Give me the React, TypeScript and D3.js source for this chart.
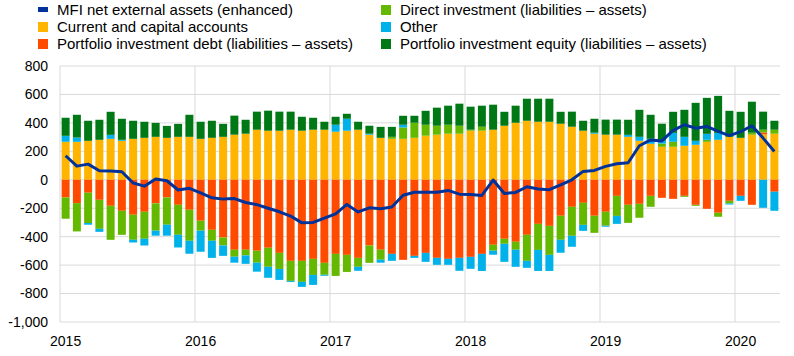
import React from "react";
import * as d3 from "d3";

const months: number[] = d3.range(64);
const yearLabels = ["2015", "2016", "2017", "2018", "2019", "2020"];
const yTicks = [800, 600, 400, 200, 0, -200, -400, -600, -800, -1000];

const current = [267,267,274,281,288,274,288,295,302,295,302,302,288,295,302,317,324,352,345,345,352,345,352,352,338,345,352,317,295,288,288,295,310,317,324,324,345,345,352,380,401,415,408,408,394,373,345,324,317,317,302,274,253,232,232,239,246,267,281,302,295,317,319,324];
const debt = [-124,-164,-91,-141,-183,-218,-246,-225,-166,-124,-176,-211,-288,-352,-406,-492,-492,-499,-478,-514,-570,-570,-556,-584,-521,-528,-549,-462,-492,-521,-563,-535,-514,-549,-556,-549,-542,-521,-457,-415,-436,-387,-310,-324,-253,-190,-162,-253,-225,-113,-176,-169,-113,-127,-134,-113,-176,-204,-232,-148,-113,-176,14,-84];
const direct = [-150,-199,-213,-204,-239,-169,-176,-190,-192,-192,-211,-218,-70,-77,-56,-49,-40,-84,-134,-113,-141,-148,-113,-84,-155,-120,-63,-122,-70,14,80,106,77,63,63,56,7,28,-42,-35,-56,-183,-183,-204,-169,-204,-155,-120,-98,-141,-127,-98,-77,23,35,-7,-7,14,-28,-19,0,14,19,28];
const other = [42,30,-12,-21,28,7,-19,-47,-35,-77,-89,-91,-148,-120,-73,-42,-59,-63,-77,-77,-7,-35,-70,-7,49,84,-28,7,-21,-49,19,-14,-63,-49,-42,-91,-84,-120,-28,-127,-120,-49,-148,-113,-91,-77,-42,7,-7,-56,14,28,35,19,63,63,28,42,49,-7,-35,0,-197,-134];
const equity = [127,160,141,141,162,148,127,113,98,84,91,155,120,120,91,134,98,127,141,134,127,98,84,56,56,35,56,56,77,70,63,49,98,127,134,155,162,148,176,98,120,155,162,162,84,106,70,98,106,106,106,190,169,120,148,190,267,253,260,183,183,218,127,63];
const mfi = [169,96,110,63,61,56,-23,-45,5,-7,-72,-60,-92,-127,-136,-132,-160,-175,-200,-225,-255,-303,-300,-270,-240,-173,-226,-197,-204,-191,-109,-88,-87,-87,-75,-101,-103,-110,-2,-96,-89,-49,-65,-70,-35,0,59,66,94,113,120,239,280,273,347,387,363,375,340,310,338,380,293,199];

const seriesKeys = ["current", "debt", "direct", "other", "equity"];
const seriesColors: Record<string, string> = {
  current: "#FFB400",
  debt: "#FF4B00",
  direct: "#65B800",
  other: "#00B1EA",
  equity: "#007816",
};
const lineColor = "#003299";

const legendItems = [
  { label: "MFI net external assets (enhanced)", color: lineColor, line: true, col: 0, row: 0 },
  { label: "Current and capital accounts", color: seriesColors.current, col: 0, row: 1 },
  { label: "Portfolio investment debt (liabilities \u2013 assets)", color: seriesColors.debt, col: 0, row: 2 },
  { label: "Direct investment (liabilities \u2013 assets)", color: seriesColors.direct, col: 1, row: 0 },
  { label: "Other", color: seriesColors.other, col: 1, row: 1 },
  { label: "Portfolio investment equity (liabilities \u2013 assets)", color: seriesColors.equity, col: 1, row: 2 },
];

export default function App() {
  const W = 794, H = 356;
  const left = 60, right = 780, top = 66, bottom = 322;
  const rows = months.map((m) => ({
    m,
    current: current[m],
    debt: debt[m],
    direct: direct[m],
    other: other[m],
    equity: equity[m],
  }));
  const stack = d3.stack<any>().keys(seriesKeys).offset(d3.stackOffsetDiverging);
  const stacked = stack(rows);
  const x = d3.scaleBand<number>().domain(months).range([left, right]).paddingInner(0.29).paddingOuter(0.145);
  const xStep = (right - left) / months.length;
  const y = d3.scaleLinear().domain([-1000, 800]).range([bottom, top]);
  const line = d3
    .line<number>()
    .x((_, i) => (x(i) as number) + x.bandwidth() / 2)
    .y((d) => y(d));
  const font = "'Liberation Sans', Arial, sans-serif";
  const fmt = (v: number) => d3.format(",")(v).replace("\u2212", "-");
  return (
    <svg width={W} height={H} style={{ position: "absolute", left: 0, top: 0 }} fontFamily={font}>
      <rect x={0} y={0} width={W} height={H} fill="#fff" />
      {yTicks.map((t) => (
        <line key={"h" + t} x1={left} x2={right} y1={y(t)} y2={y(t)} stroke="#d9d9d9" strokeWidth={1} />
      ))}
      {yearLabels.map((yl, k) => (
        <line key={"v" + yl} x1={left + k * 12 * xStep} x2={left + k * 12 * xStep} y1={top} y2={bottom} stroke="#d9d9d9" strokeWidth={1} />
      ))}
      {stacked.map((s) => (
        <g key={s.key} fill={seriesColors[s.key]}>
          {s.map((d, i) => {
            const y0 = y(d[0]);
            const y1 = y(d[1]);
            const h = Math.abs(y0 - y1);
            if (h < 0.01) return null;
            return <rect key={i} x={x(i)} width={x.bandwidth()} y={Math.min(y0, y1)} height={h} />;
          })}
        </g>
      ))}
      <path d={line(mfi) || ""} fill="none" stroke={lineColor} strokeWidth={3} strokeLinejoin="round" />
      {yTicks.map((t) => (
        <text key={"yl" + t} x={48} y={y(t)} dy="0.35em" textAnchor="end" fontSize={14} fill="#000">
          {fmt(t)}
        </text>
      ))}
      {yearLabels.map((yl, k) => (
        <text key={"xl" + yl} x={(x(k * 12) as number) + x.bandwidth() / 2} y={346} textAnchor="middle" fontSize={14} fill="#000">
          {yl}
        </text>
      ))}
      {legendItems.map((it) => {
        const lx = it.col === 0 ? 38 : 381;
        const cy = 10 + it.row * 17;
        return (
          <g key={it.label}>
            {it.line ? (
              <rect x={lx} y={cy - 3} width={10} height={5} fill={it.color} />
            ) : (
              <rect x={lx} y={cy - 5} width={10} height={10} fill={it.color} />
            )}
            <text x={lx + 19} y={cy} dy="0.35em" fontSize={15} fill="#000">
              {it.label}
            </text>
          </g>
        );
      })}
    </svg>
  );
}
